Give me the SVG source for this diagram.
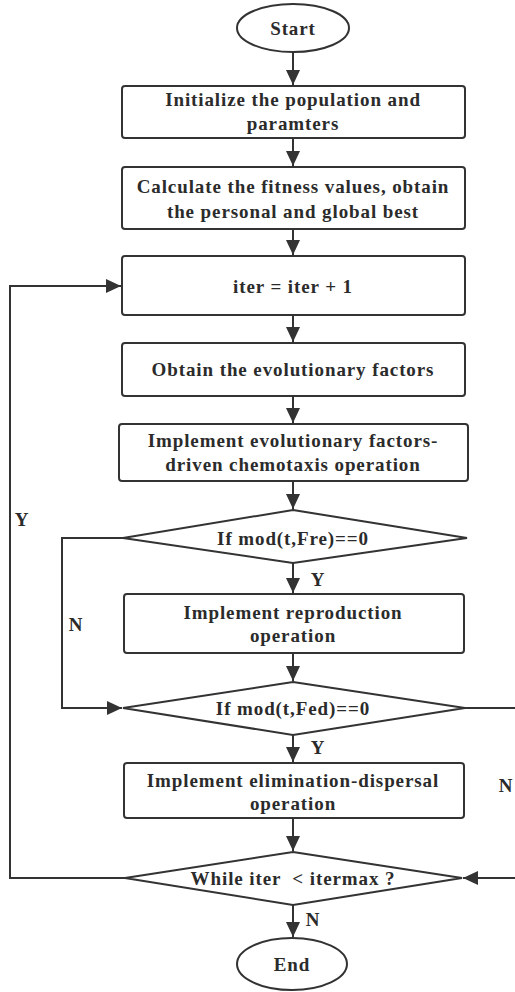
<svg xmlns="http://www.w3.org/2000/svg" width="515" height="992" viewBox="0 0 515 992">
<style>
.s{fill:#fff;stroke:#333;stroke-width:2}
.t{font-family:"Liberation Serif","Times New Roman",serif;font-weight:bold;font-size:19px;fill:#2b2b2b;text-anchor:middle;letter-spacing:0.9px;white-space:pre}
.c{fill:none;stroke:#333;stroke-width:2}
</style>
<defs>
<marker id="a" markerWidth="15" markerHeight="14" viewBox="0 0 15 14" refX="15" refY="7" orient="auto" markerUnits="userSpaceOnUse"><path d="M0,0 L15,7 L0,14 Z" fill="#333"/></marker>
</defs>
<rect width="515" height="992" fill="#fff"/>
<g id="connectors">
<path class="c" d="M293,52 V85" marker-end="url(#a)"/>
<path class="c" d="M293,138 V166" marker-end="url(#a)"/>
<path class="c" d="M293,229 V255" marker-end="url(#a)"/>
<path class="c" d="M293,315 V342" marker-end="url(#a)"/>
<path class="c" d="M293,396 V423" marker-end="url(#a)"/>
<path class="c" d="M293,481 V509" marker-end="url(#a)"/>
<path class="c" d="M293,563 V593" marker-end="url(#a)"/>
<path class="c" d="M293,653 V681" marker-end="url(#a)"/>
<path class="c" d="M293,735 V762" marker-end="url(#a)"/>
<path class="c" d="M293,818 V851" marker-end="url(#a)"/>
<path class="c" d="M293,905 V937" marker-end="url(#a)"/>
<path class="c" d="M123,538 H62 V708 H122" marker-end="url(#a)"/>
<path class="c" d="M125,878 H10 V286 H121" marker-end="url(#a)"/>
<path class="c" d="M465,708 H520 V878 H463" marker-end="url(#a)"/>
<text class="t" x="318" y="586">Y</text>
<text class="t" x="318" y="754">Y</text>
<text class="t" x="313" y="926">N</text>
<text class="t" x="76" y="631">N</text>
<text class="t" x="22" y="526">Y</text>
<text class="t" x="506" y="792">N</text>
</g>
<g id="start"><ellipse class="s" cx="293" cy="28" rx="56" ry="24"/><text class="t" x="293" y="35">Start</text></g>
<g id="init"><rect class="s" x="122" y="86" width="343" height="52" rx="3"/><text class="t" x="293" y="106">Initialize the population and</text><text class="t" x="293" y="130">paramters</text></g>
<g id="fitness"><rect class="s" x="122" y="167" width="343" height="62" rx="3"/><text class="t" x="293" y="193">Calculate the fitness values, obtain</text><text class="t" x="293" y="218">the personal and global best</text></g>
<g id="iter"><rect class="s" x="122" y="256" width="343" height="59" rx="3"/><text class="t" x="293" y="293">iter = iter + 1</text></g>
<g id="factors"><rect class="s" x="122" y="343" width="343" height="53" rx="3"/><text class="t" x="293" y="376">Obtain the evolutionary factors</text></g>
<g id="chemotaxis"><rect class="s" x="119" y="424" width="349" height="57" rx="3"/><text class="t" x="293" y="447">Implement evolutionary factors-</text><text class="t" x="293" y="471">driven chemotaxis operation</text></g>
<g id="fre"><polygon class="s" points="293,510 467,538 293,563 123,538"/><text class="t" x="293" y="545">If mod(t,Fre)==0</text></g>
<g id="reproduction"><rect class="s" x="124" y="594" width="340" height="59" rx="3"/><text class="t" x="293" y="619">Implement reproduction</text><text class="t" x="293" y="642">operation</text></g>
<g id="fed"><polygon class="s" points="293,682 465,708 293,735 123,708"/><text class="t" x="293" y="715">If mod(t,Fed)==0</text></g>
<g id="elimination"><rect class="s" x="124" y="763" width="340" height="55" rx="3"/><text class="t" x="293" y="787">Implement elimination-dispersal</text><text class="t" x="293" y="810">operation</text></g>
<g id="while"><polygon class="s" points="293,852 462,878 293,905 125,878"/><text class="t" x="293" y="885" xml:space="preserve">While iter  &lt; itermax ?</text></g>
<g id="end"><ellipse class="s" cx="292" cy="964" rx="55" ry="26"/><text class="t" x="292" y="971">End</text></g>
</svg>
